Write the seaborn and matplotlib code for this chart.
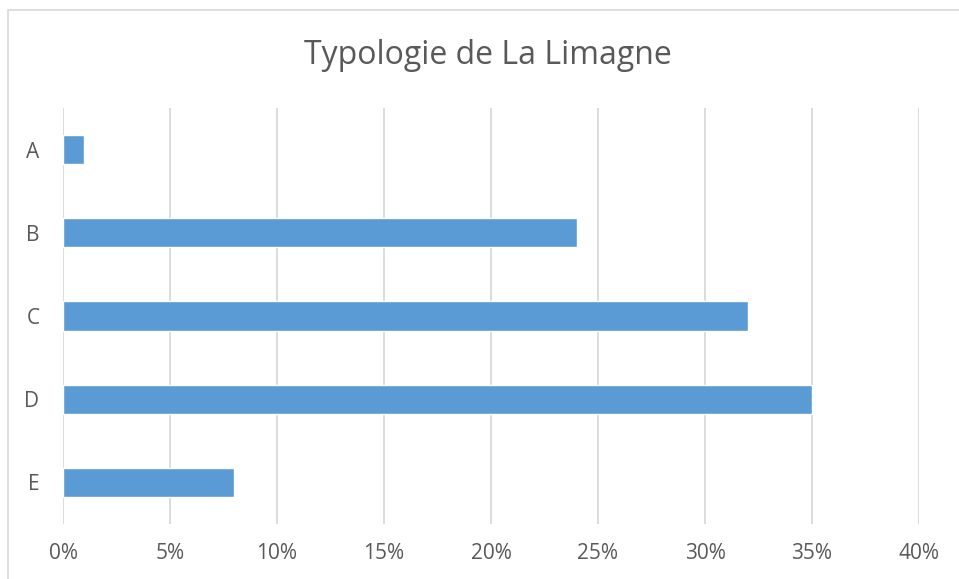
import matplotlib
matplotlib.use("Agg")
import matplotlib.pyplot as plt
import seaborn as sns
import pandas as pd
from matplotlib.patches import Rectangle
from matplotlib.ticker import FuncFormatter, MultipleLocator

categories = ["A", "B", "C", "D", "E"]
values = [1, 24, 32, 35, 8]
title = "Typologie de La Limagne"

df = pd.DataFrame({"cat": categories, "val": values})

sns.set_theme(style="white")
plt.rcParams['font.family'] = ['Open Sans', 'DejaVu Sans']

W, H = 959, 579
fig = plt.figure(figsize=(W / 100, H / 100), dpi=100)
ax = fig.add_axes([63 / W, 1 - 524 / H, (919 - 63) / W, (524 - 108) / H])

sns.barplot(data=df, x="val", y="cat", order=categories, color="#5B9BD5",
            width=0.35, saturation=1, ax=ax, zorder=3)

ax.set_xlim(0, 40)
ax.set_ylim(4.5, -0.5)
ax.xaxis.set_major_locator(MultipleLocator(5))
ax.xaxis.set_major_formatter(FuncFormatter(lambda v, p: f"{int(round(v))}%"))
ax.grid(axis="x", color="#D9D9D9", linewidth=1.3, zorder=0)
ax.grid(axis="y", visible=False)
for s in ax.spines.values():
    s.set_visible(False)
ax.tick_params(axis="both", length=0, labelsize=15, colors="#595959")
ax.tick_params(axis="x", pad=14)
ax.tick_params(axis="y", pad=17)
ax.set_xlabel("")
ax.set_ylabel("")

fig.text(488 / W, 1 - 56 / H, title, ha="center", va="center",
         fontsize=23, color="#595959")

fig.patches.append(Rectangle((8 / W, -0.05), 1.2, 1 - 10 / H + 0.05,
                             transform=fig.transFigure, fill=False,
                             edgecolor="#D9D9D9", linewidth=1.2))

fig.savefig("out.png", dpi=100)
